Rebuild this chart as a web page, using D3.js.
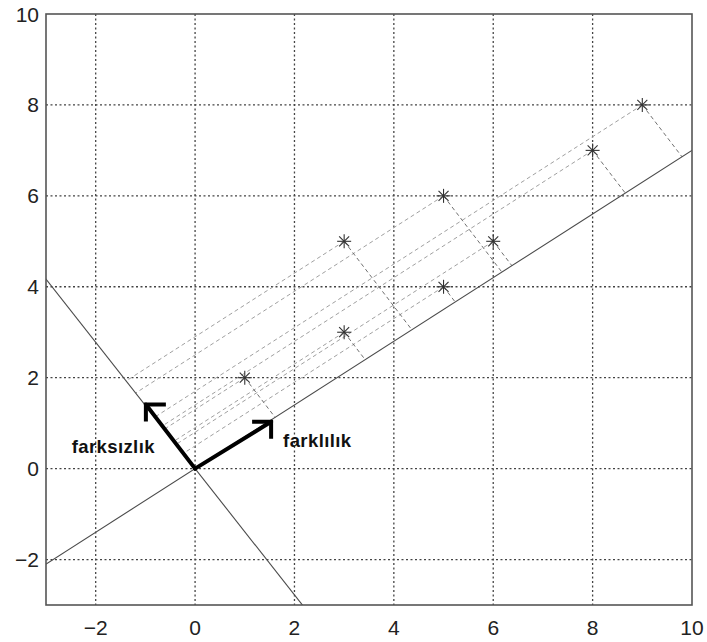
<!DOCTYPE html>
<html>
<head>
<meta charset="utf-8">
<script src="https://cdn.jsdelivr.net/npm/d3@7"></script>
<style>
  body { margin: 0; background: #fff; }
  svg { display: block; font-family: "Liberation Sans", Arial, sans-serif; }
</style>
</head>
<body>
<div id="chart"></div>
<script>
// data points (x, y)
const pointsX = [1, 3, 3, 5, 5, 6, 8, 9];
const pointsY = [2, 3, 5, 4, 6, 5, 7, 8];

// axis directions through the origin (principal and secondary)
const principalDir = [1, 0.7];
const secondaryDir = [-0.72, 1];

// arrow vectors from the origin and their labels
const arrowLabels = ["farklılık", "farksızlık"];
const arrowDX = [1.53, -0.99];
const arrowDY = [1.03, 1.41];

// ticks
const xTicks = [-2, 0, 2, 4, 6, 8, 10];
const yTicks = [-2, 0, 2, 4, 6, 8, 10];

const width = 707, height = 642;
const plotL = 46, plotR = 692, plotT = 14, plotB = 605;

const x = d3.scaleLinear().domain([-3, 10]).range([plotL, plotR]);
const y = d3.scaleLinear().domain([-3, 10]).range([plotB, plotT]);

const svg = d3.select("#chart").append("svg")
  .attr("width", width)
  .attr("height", height);

svg.append("defs").append("clipPath").attr("id", "plotclip")
  .append("rect")
  .attr("x", plotL).attr("y", plotT)
  .attr("width", plotR - plotL).attr("height", plotB - plotT);

// grid
const grid = svg.append("g")
  .attr("stroke", "#444")
  .attr("stroke-width", 1.3)
  .attr("stroke-dasharray", "2,2.5");

grid.selectAll(".vgrid")
  .data(xTicks.filter(d => d > -3 && d < 10))
  .enter().append("line")
  .attr("x1", d => x(d)).attr("x2", d => x(d))
  .attr("y1", plotT).attr("y2", plotB);

grid.selectAll(".hgrid")
  .data(yTicks.filter(d => d > -3 && d < 10))
  .enter().append("line")
  .attr("y1", d => y(d)).attr("y2", d => y(d))
  .attr("x1", plotL).attr("x2", plotR);

const plot = svg.append("g").attr("clip-path", "url(#plotclip)");

const norm = v => { const l = Math.hypot(v[0], v[1]); return [v[0] / l, v[1] / l]; };
const u = norm(principalDir);
const v = secondaryDir;

const points = pointsX.map((px, i) => ({ x: px, y: pointsY[i] }));

// lines parallel to the principal axis, from each point to the secondary line
points.forEach(p => {
  // p + t*u = s*v
  const det = u[0] * (-v[1]) - (-v[0]) * u[1];
  const t = ((-p.x) * (-v[1]) - (-v[0]) * (-p.y)) / det;
  plot.append("line")
    .attr("x1", x(p.x)).attr("y1", y(p.y))
    .attr("x2", x(p.x + t * u[0])).attr("y2", y(p.y + t * u[1]))
    .attr("stroke", "#a0a0a0")
    .attr("stroke-width", 1)
    .attr("stroke-dasharray", "4,3");
});

// perpendicular drops from each point onto the principal axis
points.forEach(p => {
  const s = p.x * u[0] + p.y * u[1];
  plot.append("line")
    .attr("x1", x(p.x)).attr("y1", y(p.y))
    .attr("x2", x(s * u[0])).attr("y2", y(s * u[1]))
    .attr("stroke", "#707070")
    .attr("stroke-width", 1)
    .attr("stroke-dasharray", "4,3");
});

// principal and secondary axis lines
[principalDir, secondaryDir].forEach(d => {
  plot.append("line")
    .attr("x1", x(-20 * d[0])).attr("y1", y(-20 * d[1]))
    .attr("x2", x(20 * d[0])).attr("y2", y(20 * d[1]))
    .attr("stroke", "#4a4a4a")
    .attr("stroke-width", 1.1);
});

// asterisk markers
const mk = plot.selectAll(".pt")
  .data(points)
  .enter().append("g")
  .attr("transform", d => `translate(${x(d.x)},${y(d.y)})`)
  .attr("stroke", "#333")
  .attr("stroke-width", 1.1);
mk.append("line").attr("x1", 0).attr("x2", 0).attr("y1", -7).attr("y2", 7);
mk.append("line").attr("x1", -7).attr("x2", 7).attr("y1", 0).attr("y2", 0);
mk.append("line").attr("x1", -5).attr("x2", 5).attr("y1", -5).attr("y2", 5);
mk.append("line").attr("x1", -5).attr("x2", 5).attr("y1", 5).attr("y2", -5);

// arrows with corner heads
arrowLabels.forEach((label, i) => {
  const tx = x(arrowDX[i]), ty = y(arrowDY[i]);
  svg.append("line")
    .attr("x1", x(0)).attr("y1", y(0))
    .attr("x2", tx).attr("y2", ty)
    .attr("stroke", "#000").attr("stroke-width", 4)
    .attr("stroke-linecap", "round");
  const hx = arrowDX[i] > 0 ? -19 : 20;
  svg.append("path")
    .attr("d", `M${tx + hx},${ty}L${tx},${ty}L${tx},${ty + 17}`)
    .attr("fill", "none")
    .attr("stroke", "#000").attr("stroke-width", 4)
    .attr("stroke-linejoin", "miter");
  svg.append("text")
    .attr("x", arrowDX[i] > 0 ? tx + 12 : tx + 9)
    .attr("y", arrowDX[i] > 0 ? ty + 25 : ty + 48)
    .attr("text-anchor", arrowDX[i] > 0 ? "start" : "end")
    .attr("font-family", "Arial, 'Liberation Sans', sans-serif")
    .attr("font-weight", "bold")
    .attr("font-size", 18.5)
    .attr("letter-spacing", 0.4)
    .attr("fill", "#111")
    .text(label);
});

// axes box
svg.append("rect")
  .attr("x", plotL).attr("y", plotT)
  .attr("width", plotR - plotL).attr("height", plotB - plotT)
  .attr("fill", "none")
  .attr("stroke", "#555")
  .attr("stroke-width", 1.6);

// tick labels
const fmt = d => d < 0 ? "\u2212" + Math.abs(d) : String(d);
svg.selectAll(".xt")
  .data(xTicks)
  .enter().append("text")
  .attr("x", d => x(d))
  .attr("y", 635)
  .attr("text-anchor", "middle")
  .attr("font-size", 21)
  .attr("fill", "#222")
  .text(fmt);

svg.selectAll(".yt")
  .data(yTicks)
  .enter().append("text")
  .attr("x", 39)
  .attr("y", d => y(d))
  .attr("dy", "0.36em")
  .attr("text-anchor", "end")
  .attr("font-size", 21)
  .attr("fill", "#222")
  .text(fmt);
</script>
</body>
</html>
